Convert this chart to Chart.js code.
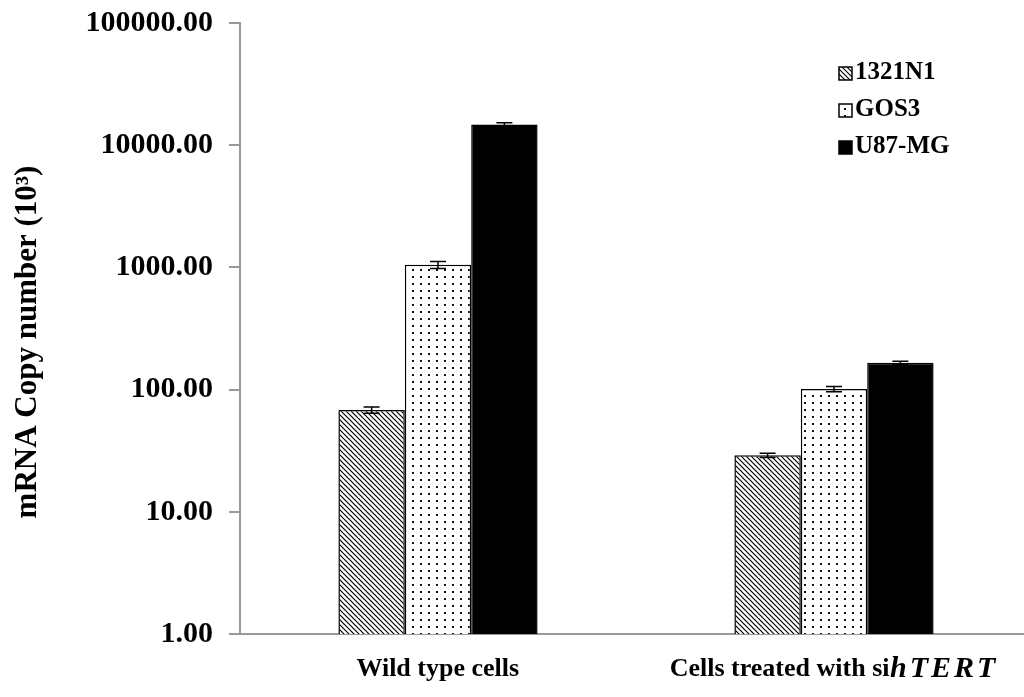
<!DOCTYPE html>
<html>
<head>
<meta charset="utf-8">
<script src="https://cdn.jsdelivr.net/npm/chart.js@4/dist/chart.umd.min.js"></script>
<style>
body { margin: 0; overflow: hidden; background: #fff; }
#wrap { position: absolute; left: 0; top: 0; width: 1040px; height: 697px; }
</style>
</head>
<body>
<div id="wrap"><canvas id="copy_chart" width="1040" height="697"></canvas></div>
<script>
// groups on the x axis, cell lines as series
var groups = ['Wild type cells', 'Cells treated with sihTERT'];
var italicWord = 'hTERT';
var cellLines = ['1321N1', 'GOS3', 'U87-MG'];
var yTitle = 'mRNA Copy number (10\u00B3)';

// mRNA copy number (x10^3), log axis
var val1321 = [68, 29];
var valGos3 = [1050, 101];
var valU87 = [14800, 166];

// standard error
var err1321 = [4, 1.2];
var errGos3 = [70, 5];
var errU87 = [450, 5];

var yTicks = [1, 10, 100, 1000, 10000, 100000];

var serif = "'Liberation Serif', 'Times New Roman', serif";

function hatchPattern() {
	var c = document.createElement('canvas');
	c.width = 5; c.height = 5;
	var g = c.getContext('2d');
	g.fillStyle = '#fff';
	g.fillRect(0, 0, 5, 5);
	g.strokeStyle = '#000';
	g.lineWidth = 1.2;
	g.beginPath();
	g.moveTo(0, 0); g.lineTo(5, 5);
	g.moveTo(-1, 4); g.lineTo(1, 6);
	g.moveTo(4, -1); g.lineTo(6, 1);
	g.stroke();
	return g.createPattern(c, 'repeat');
}

function dotPattern() {
	var c = document.createElement('canvas');
	c.width = 8; c.height = 7;
	var g = c.getContext('2d');
	g.fillStyle = '#fff';
	g.fillRect(0, 0, 8, 7);
	g.fillStyle = '#111';
	g.fillRect(4, 3, 2, 2);
	return g.createPattern(c, 'repeat');
}

// error bars drawn from the same values through the y scale
var errorBars = {
	id: 'errorBars',
	afterDatasetsDraw: function(chart) {
		var ctx = chart.ctx;
		var y = chart.scales.y;
		ctx.save();
		ctx.strokeStyle = '#000';
		ctx.lineWidth = 1.5;
		chart.data.datasets.forEach(function(ds, di) {
			var meta = chart.getDatasetMeta(di);
			meta.data.forEach(function(bar, i) {
				var v = ds.data[i], e = ds.errors[i];
				var top = y.getPixelForValue(v + e);
				var bot = y.getPixelForValue(v - e);
				var x = bar.x;
				ctx.beginPath();
				ctx.moveTo(x, top); ctx.lineTo(x, bot);
				ctx.moveTo(x - 8, top); ctx.lineTo(x + 8, top);
				ctx.moveTo(x - 8, bot); ctx.lineTo(x + 8, bot);
				ctx.stroke();
			});
		});
		ctx.restore();
	}
};

// category labels, with the gene name in italics
var groupLabels = {
	id: 'groupLabels',
	afterDraw: function(chart) {
		var ctx = chart.ctx;
		var x = chart.scales.x;
		var fonts = ['bold 26px ' + serif, 'italic bold 30px ' + serif];
		var spacing = [0, 3];
		ctx.save();
		ctx.fillStyle = '#000';
		ctx.textBaseline = 'middle';
		ctx.textAlign = 'left';
		groups.forEach(function(label, i) {
			var parts = [label];
			var k = label.indexOf(italicWord);
			if(k >= 0) {
				parts = [label.slice(0, k), label.slice(k)];
			}
			// measure every char so the spaced italic word adds up
			var widths = parts.map(function(p, j) {
				ctx.font = fonts[j];
				var w = 0;
				for(var c = 0; c < p.length; c++) {
					w += ctx.measureText(p[c]).width + spacing[j];
				}
				return w;
			});
			var total = widths.reduce(function(a, b) { return a + b; }, 0);
			var px = x.getPixelForValue(i) - total / 2;
			parts.forEach(function(p, j) {
				ctx.font = fonts[j];
				if(spacing[j] === 0) {
					ctx.fillText(p, px, 669);
					px += widths[j];
				} else {
					for(var c = 0; c < p.length; c++) {
						ctx.fillText(p[c], px, 669);
						px += ctx.measureText(p[c]).width + spacing[j];
					}
				}
			});
		});

		// rotated axis title, sits a bit below the plot middle
		ctx.font = 'bold 31px ' + serif;
		ctx.textAlign = 'center';
		ctx.translate(28, 342);
		ctx.rotate(-Math.PI / 2);
		ctx.fillText(yTitle, 0, 0);
		ctx.restore();
	}
};

var boxLegend = {
	id: 'boxLegend',
	afterDraw: function(chart) {
		var ctx = chart.ctx;
		ctx.save();
		ctx.font = 'bold 25px ' + serif;
		ctx.textBaseline = 'middle';
		ctx.textAlign = 'left';
		chart.data.datasets.forEach(function(ds, i) {
			var cy = 73 + i * 37;
			ctx.fillStyle = ds.backgroundColor;
			ctx.fillRect(839, cy - 6, 13, 13);
			ctx.strokeStyle = '#000';
			ctx.lineWidth = 1.5;
			ctx.strokeRect(839, cy - 6, 13, 13);
			ctx.fillStyle = '#000';
			ctx.fillText(ds.label, 855, cy);
		});
		ctx.restore();
	}
};

window.onload = function() {
	var ctx = document.getElementById('copy_chart').getContext('2d');
	new Chart(ctx, {
		type: 'bar',
		data: {
			labels: groups,
			datasets: [{
				label: cellLines[0],
				data: val1321,
				errors: err1321,
				backgroundColor: hatchPattern(),
				borderColor: '#000',
				borderWidth: 1.5
			}, {
				label: cellLines[1],
				data: valGos3,
				errors: errGos3,
				backgroundColor: dotPattern(),
				borderColor: '#000',
				borderWidth: 1.5
			}, {
				label: cellLines[2],
				data: valU87,
				errors: errU87,
				backgroundColor: '#000',
				borderColor: '#000',
				borderWidth: 1.5
			}]
		},
		options: {
			responsive: false,
			animation: false,
			barPercentage: 1,
			categoryPercentage: 0.503,
			layout: { padding: { left: 0, right: 8, top: 23, bottom: 0 } },
			plugins: {
				legend: { display: false },
				tooltip: { enabled: false }
			},
			scales: {
				x: {
					ticks: { display: false },
					grid: { display: false },
					border: { color: '#999', width: 2 },
					afterFit: function(s) { s.height = 63; }
				},
				y: {
					type: 'logarithmic',
					min: 1,
					max: 100000,
					afterBuildTicks: function(s) {
						s.ticks = yTicks.map(function(v) { return { value: v }; });
					},
					afterFit: function(s) {
						s.width = 240;
						s.paddingTop = 0;
						s.paddingBottom = 0;
					},
					ticks: {
						padding: 16,
						color: '#000',
						font: { family: serif, size: 30, weight: 'bold' },
						callback: function(v) { return Number(v).toFixed(2); }
					},
					grid: {
						drawOnChartArea: false,
						drawTicks: true,
						tickLength: 11,
						color: '#999',
						lineWidth: 2
					},
					border: { color: '#999', width: 2 }
				}
			}
		},
		plugins: [errorBars, groupLabels, boxLegend]
	});
};
</script>
</body>
</html>
